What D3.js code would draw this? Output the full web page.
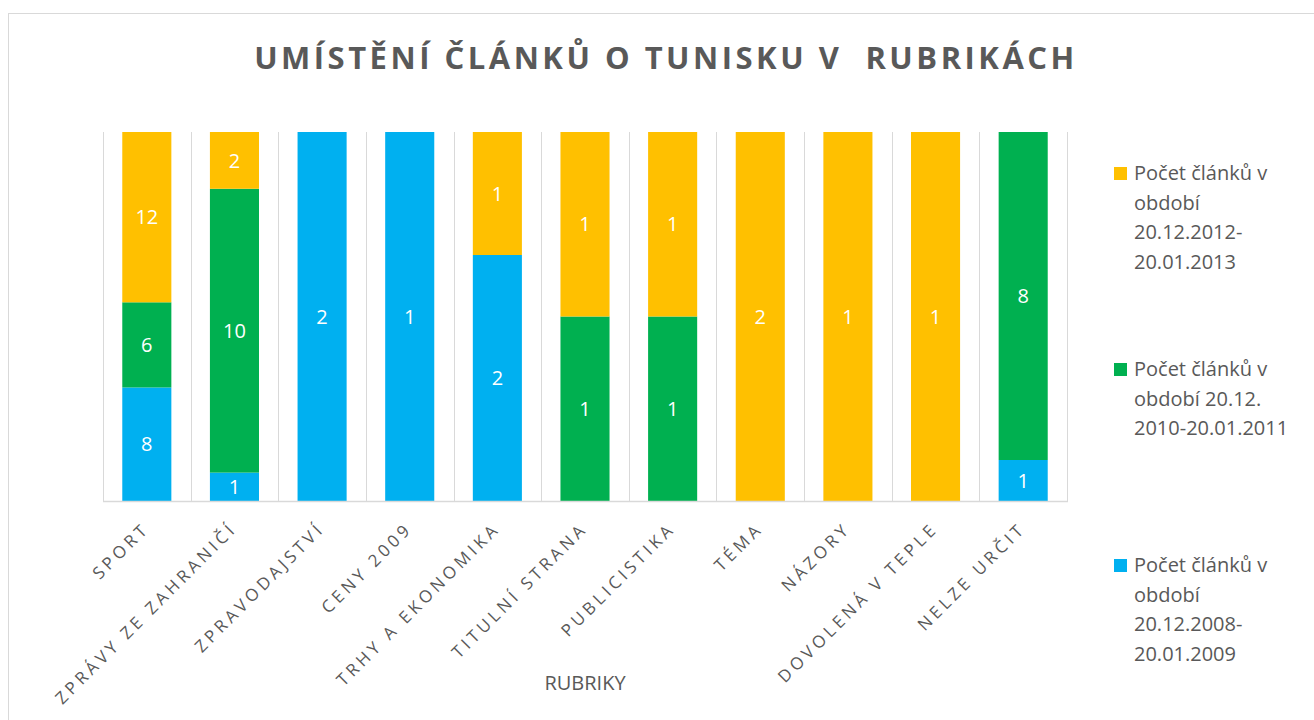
<!DOCTYPE html>
<html><head><meta charset="utf-8">
<script src="https://cdn.jsdelivr.net/npm/d3@7"></script>
<style>body{margin:0;background:#fff;} svg{display:block;}</style>
</head><body>
<script>
const categories = ["SPORT","ZPRÁVY ZE ZAHRANIČÍ","ZPRAVODAJSTVÍ","CENY 2009","TRHY A EKONOMIKA","TITULNÍ STRANA","PUBLICISTIKA","TÉMA","NÁZORY","DOVOLENÁ V TEPLE","NELZE URČIT"];
const series2008 = [8,1,2,1,2,0,0,0,0,0,1];
const series2010 = [6,10,0,0,0,1,1,0,0,0,8];
const series2012 = [12,2,0,0,1,1,1,2,1,1,0];
const seriesNames = [
  ["Počet článků v","období","20.12.2008-","20.01.2009"],
  ["Počet článků v","období 20.12.","2010-20.01.2011"],
  ["Počet článků v","období","20.12.2012-","20.01.2013"]
];
const colors = ["#00B0F0","#00B050","#FFC000"];
const title = "UMÍSTĚNÍ ČLÁNKŮ O TUNISKU V  RUBRIKÁCH";
const axisTitle = "RUBRIKY";

const W=1314,H=720;
const svg=d3.select("body").append("svg").attr("width",W).attr("height",H);
const font="'Open Sans', sans-serif";
svg.append("rect").attr("x",8.5).attr("y",13.5).attr("width",1400).attr("height",800)
  .attr("fill","#fff").attr("stroke","#d9d9d9").attr("stroke-width",1);

svg.append("text").attr("x",666).attr("y",69).attr("text-anchor","middle")
  .attr("font-family",font).attr("font-weight","bold").attr("font-size",31)
  .attr("letter-spacing",3.5).attr("fill","#595959").style("white-space","pre").text(title);

const pLeft=103,pRight=1067,pTop=132,pBottom=501;
const x=d3.scaleBand().domain(categories).range([pLeft,pRight]).paddingInner(0.44).paddingOuter(0.22);
const y=d3.scaleLinear().domain([0,1]).range([pBottom,pTop]);

const rows=categories.map((c,i)=>({cat:c,s0:series2008[i],s1:series2010[i],s2:series2012[i]}));
const stack=d3.stack().keys(["s0","s1","s2"]).offset(d3.stackOffsetExpand);
const layers=stack(rows);

const step=(pRight-pLeft)/categories.length;
const bounds=d3.range(categories.length+1).map(i=>pLeft+i*step);
svg.append("g").selectAll("line").data(bounds).join("line")
  .attr("x1",d=>Math.round(d)+0.5).attr("x2",d=>Math.round(d)+0.5).attr("y1",pTop).attr("y2",pBottom)
  .attr("stroke","#d9d9d9").attr("stroke-width",1);

const g=svg.append("g");
layers.forEach((layer,li)=>{
  g.append("g").selectAll("rect").data(layer).join("rect")
    .attr("x",d=>x(d.data.cat)).attr("width",x.bandwidth())
    .attr("y",d=>y(d[1])).attr("height",d=>y(d[0])-y(d[1]))
    .attr("fill",colors[li]);
  g.append("g").selectAll("text").data(layer.filter(d=>d.data[layer.key]>0)).join("text")
    .attr("x",d=>x(d.data.cat)+x.bandwidth()/2).attr("y",d=>(y(d[0])+y(d[1]))/2)
    .attr("dy","0.36em").attr("text-anchor","middle").attr("fill","#fff")
    .attr("font-family",font).attr("font-size",20).text(d=>d.data[layer.key]);
});

svg.append("line").attr("x1",pLeft).attr("x2",pRight+1).attr("y1",pBottom+0.5).attr("y2",pBottom+0.5)
  .attr("stroke","#d9d9d9").attr("stroke-width",1.5);

svg.append("g").selectAll("text").data(categories).join("text")
  .attr("transform",d=>`translate(${x(d)+x.bandwidth()/2-5},${pBottom+20}) rotate(-45)`)
  .attr("text-anchor","end").attr("dy","0.72em")
  .attr("font-family",font).attr("font-size",17).attr("letter-spacing",3.8)
  .attr("fill","#595959").text(d=>d);

svg.append("text").attr("x",585).attr("y",690).attr("text-anchor","middle")
  .attr("font-family",font).attr("font-size",20).attr("fill","#595959").text(axisTitle);

const legendOrder=[2,1,0];
const lg=svg.append("g");
legendOrder.forEach((si,k)=>{
  const gy=167+k*196;
  lg.append("rect").attr("x",1114).attr("y",gy).attr("width",13).attr("height",13).attr("fill",colors[si]);
  const t=lg.append("text").attr("font-family",font).attr("font-size",20).attr("fill","#595959");
  seriesNames[si].forEach((line,j)=>{
    t.append("tspan").attr("x",1134).attr("y",gy+13+j*29.5).text(line);
  });
});
</script>
</body></html>
